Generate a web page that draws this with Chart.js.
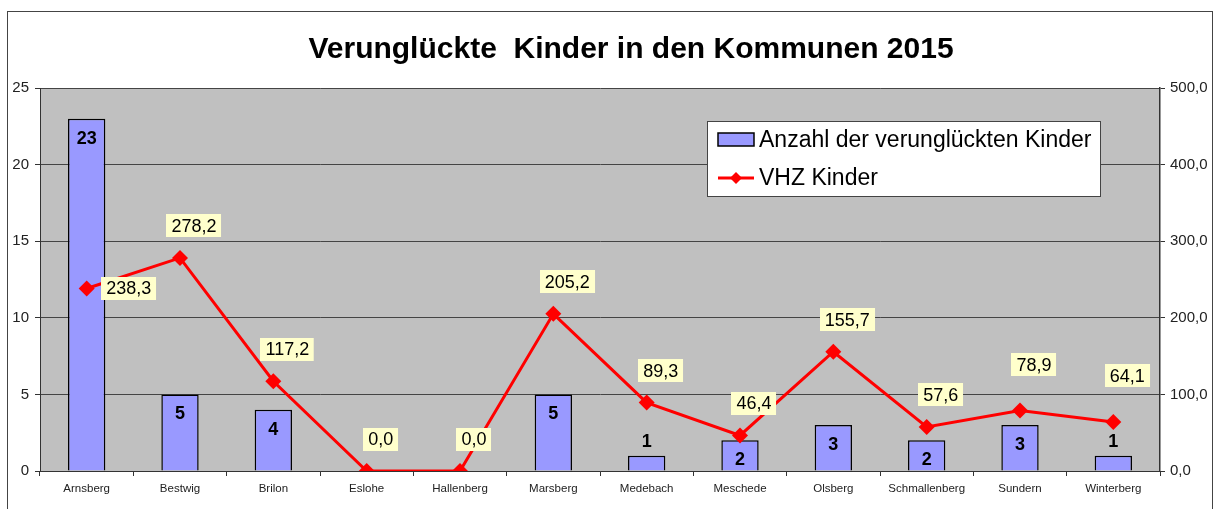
<!DOCTYPE html>
<html>
<head>
<meta charset="utf-8">
<title>Verunglückte Kinder in den Kommunen 2015</title>
<script src="https://cdn.jsdelivr.net/npm/chart.js@4"></script>
<style>
  html, body { margin: 0; padding: 0; background: #fff; }
  #chart { display: block; }
</style>
</head>
<body>
<canvas id="chart" width="1217" height="509"></canvas>
<script>
// Data
const kommunen = ['Arnsberg', 'Bestwig', 'Brilon', 'Eslohe', 'Hallenberg', 'Marsberg',
  'Medebach', 'Meschede', 'Olsberg', 'Schmallenberg', 'Sundern', 'Winterberg'];
const anzahlKinder = [23, 5, 4, 0, 0, 5, 1, 2, 3, 2, 3, 1];
const vhzKinder = [238.3, 278.2, 117.2, 0.0, 0.0, 205.2, 89.3, 46.4, 155.7, 57.6, 78.9, 64.1];
const leftTicks = [0, 5, 10, 15, 20, 25];
const rightTicks = [0, 100, 200, 300, 400, 500];
const chartTitle = 'Verunglückte  Kinder in den Kommunen 2015';

const FONT = 'Arial, "Liberation Sans", sans-serif';

// comma as decimal separator
function fmt(v) {
  return v.toFixed(1).replace('.', ',');
}

// grey plot area, outer frame and title
const backgroundPlugin = {
  id: 'background',
  beforeDraw(chart) {
    const { ctx, chartArea: a } = chart;
    ctx.save();
    ctx.fillStyle = '#fff';
    ctx.fillRect(0, 0, chart.width, chart.height);
    ctx.strokeStyle = '#444';
    ctx.lineWidth = 1;
    ctx.strokeRect(7.5, 11.5, 1205, 520);
    ctx.fillStyle = '#C0C0C0';
    ctx.fillRect(a.left, a.top, a.right - a.left, a.bottom - a.top);

    ctx.fillStyle = '#000';
    ctx.font = 'bold 30px ' + FONT;
    ctx.textAlign = 'center';
    ctx.textBaseline = 'middle';
    ctx.fillText(chartTitle, 631, 50);
    ctx.restore();
  }
};

// value labels for bars and line points
const labelPlugin = {
  id: 'valueLabels',
  afterDatasetsDraw(chart) {
    const ctx = chart.ctx;
    ctx.save();
    ctx.textAlign = 'center';
    ctx.textBaseline = 'middle';

    // bar labels
    const barMeta = chart.getDatasetMeta(1);
    ctx.font = 'bold 18px ' + FONT;
    ctx.fillStyle = '#000';
    barMeta.data.forEach((bar, i) => {
      const v = anzahlKinder[i];
      if (!v) return;
      const y = v >= 2 ? bar.y + 19 : bar.y - 15;
      ctx.fillText(String(v), bar.x, y + 1);
    });

    // line labels with yellow boxes
    const lineMeta = chart.getDatasetMeta(0);
    ctx.font = '18px ' + FONT;
    lineMeta.data.forEach((pt, i) => {
      const text = fmt(vhzKinder[i]);
      let cx = pt.x + 14, cy = pt.y - 32;
      if (i === 0) { cx = pt.x + 42; cy = pt.y; }
      if (i === 10 || i === 11) cy = pt.y - 46;
      const w = ctx.measureText(text).width + 10;
      const h = 23;
      ctx.fillStyle = '#FFFFCC';
      ctx.fillRect(Math.round(cx - w / 2), Math.round(cy - h / 2), w, h);
      ctx.fillStyle = '#000';
      ctx.fillText(text, cx, cy + 1);
    });
    ctx.restore();
  }
};

// legend box inside the plot
const legendPlugin = {
  id: 'boxLegend',
  afterDraw(chart) {
    const ctx = chart.ctx;
    const ds = chart.data.datasets;
    ctx.save();
    ctx.fillStyle = '#fff';
    ctx.fillRect(707, 121, 393, 75);
    ctx.strokeStyle = '#444';
    ctx.lineWidth = 1;
    ctx.strokeRect(707.5, 121.5, 393, 75);

    // bar entry
    ctx.fillStyle = ds[1].backgroundColor;
    ctx.fillRect(718, 133, 36, 13);
    ctx.strokeStyle = '#000';
    ctx.lineWidth = 1.5;
    ctx.strokeRect(718, 133, 36, 13);

    // line entry
    ctx.strokeStyle = ds[0].borderColor;
    ctx.lineWidth = 3;
    ctx.beginPath();
    ctx.moveTo(718, 178);
    ctx.lineTo(754, 178);
    ctx.stroke();
    ctx.fillStyle = ds[0].borderColor;
    ctx.beginPath();
    ctx.moveTo(736, 172);
    ctx.lineTo(742, 178);
    ctx.lineTo(736, 184);
    ctx.lineTo(730, 178);
    ctx.closePath();
    ctx.fill();

    ctx.fillStyle = '#000';
    ctx.font = '23px ' + FONT;
    ctx.textBaseline = 'middle';
    ctx.textAlign = 'left';
    ctx.fillText(ds[1].label, 759, 141);
    ctx.fillText(ds[0].label, 759, 179);
    ctx.restore();
  }
};

new Chart(document.getElementById('chart'), {
  data: {
    labels: kommunen,
    datasets: [
      {
        type: 'line',
        label: 'VHZ Kinder',
        data: vhzKinder,
        yAxisID: 'y1',
        borderColor: '#FF0000',
        backgroundColor: '#FF0000',
        borderWidth: 3,
        pointStyle: 'rectRot',
        pointRadius: 8,
        pointBorderWidth: 0,
        tension: 0,
        order: 1
      },
      {
        type: 'bar',
        label: 'Anzahl der verunglückten Kinder',
        data: anzahlKinder,
        yAxisID: 'y',
        backgroundColor: '#9999FF',
        borderColor: '#000',
        borderWidth: 1.5,
        barPercentage: 0.4,
        categoryPercentage: 1,
        order: 2
      }
    ]
  },
  options: {
    responsive: false,
    animation: false,
    layout: { padding: { left: 0, right: 0, top: 88, bottom: 0 } },
    plugins: {
      legend: { display: false },
      tooltip: { enabled: false },
      title: { display: false }
    },
    scales: {
      x: {
        offset: true,
        grid: {
          offset: true,
          drawOnChartArea: false,
          drawTicks: true,
          tickLength: 5,
          color: '#333'
        },
        border: { display: true, color: '#333', width: 1 },
        ticks: {
          color: '#222',
          font: { family: FONT, size: 11.5 },
          padding: 6,
          maxRotation: 0,
          autoSkip: false
        },
        afterFit(scale) { scale.height = 38; }
      },
      y: {
        position: 'left',
        min: 0,
        max: 25,
        afterBuildTicks(scale) { scale.ticks = leftTicks.map(v => ({ value: v })); },
        grid: { color: '#444', lineWidth: 1, tickLength: 5, tickColor: '#333' },
        border: { display: true, color: '#333', width: 1 },
        ticks: {
          color: '#222',
          font: { family: FONT, size: 15 },
          padding: 6,
          callback: v => String(v)
        },
        afterFit(scale) { scale.width = 40; }
      },
      y1: {
        position: 'right',
        min: 0,
        max: 500,
        afterBuildTicks(scale) { scale.ticks = rightTicks.map(v => ({ value: v })); },
        grid: { drawOnChartArea: false, tickLength: 5, color: '#333' },
        border: { display: true, color: '#333', width: 1.5 },
        ticks: {
          color: '#222',
          font: { family: FONT, size: 15 },
          padding: 5,
          callback: v => fmt(v)
        },
        afterFit(scale) { scale.width = 57; }
      }
    }
  },
  plugins: [backgroundPlugin, labelPlugin, legendPlugin]
});
</script>
</body>
</html>
